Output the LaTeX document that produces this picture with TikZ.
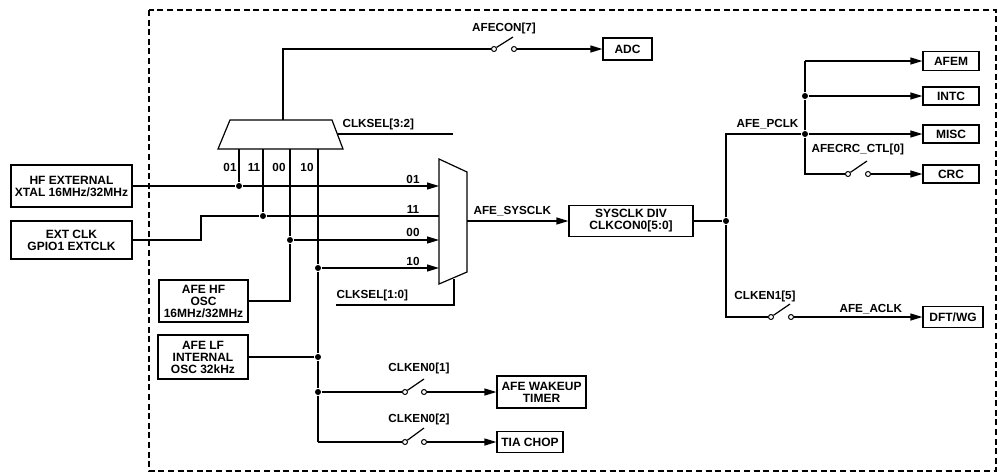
\documentclass[tikz,border=0pt]{standalone}
\usepackage{fontspec}
\setmainfont{Liberation Sans}
\usetikzlibrary{arrows.meta}

\begin{document}
\begin{tikzpicture}
  [x=1pt,y=-1pt,line width=1.2pt,
   >={Triangle[length=12pt,width=7pt]},
   box node/.style={draw,inner sep=0pt,align=center,font=\bfseries\fontsize{12}{12}\selectfont},
   text node/.style={inner sep=0pt,font=\bfseries\fontsize{11.7}{12}\selectfont},
   dot node/.style={circle,fill=black,inner sep=0pt,minimum size=6pt},
   switch node/.style={circle,draw,fill=white,line width=1pt,inner sep=0pt,minimum size=5pt}]

\useasboundingbox (0,0) rectangle (1003,472);
\draw [dashed,line width=1.5pt,dash pattern=on 6pt off 3.6pt] (149,10) rectangle (996,471);

% sources
\node[box node,minimum width=121pt,minimum height=42pt] (hfext) at (71.5,186) {HF EXTERNAL\\XTAL 16MHz/32MHz};
\node[box node,minimum width=121pt,minimum height=38pt] (extclk) at (71.5,240) {EXT CLK\\GPIO1 EXTCLK};
\node[box node,minimum width=89pt,minimum height=42pt] (hfosc) at (203.5,301) {AFE HF\\OSC\\16MHz/32MHz};
\node[box node,minimum width=90pt,minimum height=44pt] (lfosc) at (203,357) {AFE LF\\INTERNAL\\OSC 32kHz};

% sinks
\node[box node,minimum width=49pt,minimum height=22pt] (adc) at (627.5,49) {ADC};
\node[box node,minimum width=89pt,minimum height=32pt] (wakeup) at (541.5,392) {AFE WAKEUP\\TIMER};
\node[box node,minimum width=66pt,minimum height=21pt] (tiachop) at (530,442) {TIA CHOP};
\node[box node,minimum width=124pt,minimum height=31pt] (sysdiv) at (631,221) {SYSCLK DIV\\CLKCON0[5:0]};
\node[box node,minimum width=56pt,minimum height=19pt] (afem) at (951,61) {AFEM};
\node[box node,minimum width=56pt,minimum height=18pt] (intc) at (951,96) {INTC};
\node[box node,minimum width=56pt,minimum height=18pt] (misc) at (951,134) {MISC};
\node[box node,minimum width=56pt,minimum height=18pt] (crc) at (951,174) {CRC};
\node[box node,minimum width=60pt,minimum height=21pt] (dftwg) at (953,317) {DFT/WG};

% clock select muxes
\coordinate (topa) at (218,149);
\coordinate (topb) at (230,120);
\coordinate (topc) at (332,120);
\coordinate (topd) at (343,149);
\coordinate (topout) at (283,120);
\coordinate (pin01) at (239,149);
\coordinate (pin11) at (263,149);
\coordinate (pin00) at (290,149);
\coordinate (pin10) at (318,149);
\draw (topa) -- (topb) -- (topc) -- (topd) -- cycle;

\coordinate (sysa) at (439,159);
\coordinate (sysb) at (467,172);
\coordinate (sysc) at (467,272);
\coordinate (sysd) at (439,284);
\coordinate (in01) at (439,186);
\coordinate (in11) at (439,216);
\coordinate (in00) at (439,240);
\coordinate (in10) at (439,268);
\coordinate (sysout) at (467,221);
\draw (sysa) -- (sysb) -- (sysc) -- (sysd) -- cycle;

% junctions
\node[dot node] (dot01) at (239,186) {};
\node[dot node] (dot11) at (263,216) {};
\node[dot node] (dot00) at (290,240) {};
\node[dot node] (dot10) at (318,268) {};
\node[dot node] (dotlf) at (318,357) {};
\node[dot node] (dotwake) at (318,392) {};
\node[dot node] (dotsys) at (726,221) {};
\node[dot node] (dotintc) at (805,96) {};
\node[dot node] (dotmisc) at (805,134) {};

% switches
\node[switch node] (swadca) at (494,49) {};
\node[switch node] (swadcb) at (514,49) {};
\node[switch node] (swwakea) at (405,392) {};
\node[switch node] (swwakeb) at (424,392) {};
\node[switch node] (swtiaa) at (405,442) {};
\node[switch node] (swtiab) at (424,442) {};
\node[switch node] (swcrca) at (848,174) {};
\node[switch node] (swcrcb) at (868,174) {};
\node[switch node] (swdfta) at (771,317) {};
\node[switch node] (swdftb) at (791,317) {};
\coordinate (armadc) at (513,37);
\coordinate (armwake) at (424,379);
\coordinate (armtia) at (424,428);
\coordinate (armcrc) at (867,161);
\coordinate (armdft) at (790,304);

\path
  (swadca) edge (armadc)
  (swwakea) edge (armwake)
  (swtiaa) edge (armtia)
  (swcrca) edge (armcrc)
  (swdfta) edge (armdft);

% wires
\coordinate (extup) at (201,216);
\coordinate (hfup) at (290,301);
\coordinate (lfend) at (318,442);
\coordinate (pclktop) at (726,134);
\coordinate (pclkend) at (726,317);
\coordinate (afemup) at (805,61);
\coordinate (crcdown) at (805,174);
\coordinate (adcup) at (283,49);

\draw (topout) -- (adcup) -- (swadca);
\draw (extclk) -| (extup) -- (dot11);
\draw (hfosc) -- (hfup) -- (dot00);
\draw (lfend) -- (swtiaa);
\draw (dotsys) -- (pclktop) -- (dotmisc);
\draw (dotsys) -- (pclkend) -- (swdfta);
\draw (dotintc) -- (afemup);
\draw [->] (afemup) -- (afem);
\draw (dotmisc) -- (crcdown) -- (swcrca);

\path
  (hfext) edge (dot01)
  (dot01) edge [->] (in01)
  (dot11) edge (in11)
  (dot00) edge [->] (in00)
  (dot10) edge [->] (in10)
  (pin01) edge (dot01)
  (pin11) edge (dot11)
  (pin00) edge (dot00)
  (pin10) edge (dot10)
  (dot10) edge (dotlf)
  (dotlf) edge (dotwake)
  (dotwake) edge (lfend)
  (lfosc) edge (dotlf)
  (dotwake) edge (swwakea)
  (swadcb) edge [->] (adc)
  (swwakeb) edge [->] (wakeup)
  (swtiab) edge [->] (tiachop)
  (sysout) edge [->] (sysdiv)
  (sysdiv) edge (dotsys)
  (dotintc) edge [->] (intc)
  (dotmisc) edge (dotintc)
  (dotmisc) edge [->] (misc)
  (swcrcb) edge [->] (crc)
  (swdftb) edge [->] (dftwg);

% select lines
\coordinate (selhia) at (338,134);
\coordinate (selhib) at (453,134);
\coordinate (sellob) at (454,305);
\coordinate (seloa) at (336,305);
\coordinate (selup) at (454,279);
\draw (selhia) -- (selhib);
\draw (seloa) -- (sellob) -- (selup);

% labels
\node[text node,anchor=west] (lblsellow) at (336,295) {CLKSEL[1:0]};
\node[text node,anchor=west] (lblselhigh) at (342,124) {CLKSEL[3:2]};
\node[text node] (lblpin01) at (230,167) {01};
\node[text node] (lblpin11) at (254,167) {11};
\node[text node] (lblpin00) at (279,167) {00};
\node[text node] (lblpin10) at (307,167) {10};
\node[text node] (lblin01) at (413,179) {01};
\node[text node] (lblin11) at (413,209) {11};
\node[text node] (lblin00) at (413,232) {00};
\node[text node] (lblin10) at (413,261) {10};
\node[text node,anchor=west] (lblsys) at (473,211) {AFE\_SYSCLK};
\node[text node,anchor=west] (lblpclk) at (736,124) {AFE\_PCLK};
\node[text node,anchor=west] (lblaclk) at (839,309) {AFE\_ACLK};
\node[text node,anchor=west] (lblcrc) at (811,149) {AFECRC\_CTL[0]};
\node[text node] (lbldft) at (765,296) {CLKEN1[5]};
\node[text node] (lblwake) at (419,368) {CLKEN0[1]};
\node[text node] (lbltia) at (419,419) {CLKEN0[2]};
\node[text node] (lbladc) at (504,28) {AFECON[7]};

\end{tikzpicture}
\end{document}
